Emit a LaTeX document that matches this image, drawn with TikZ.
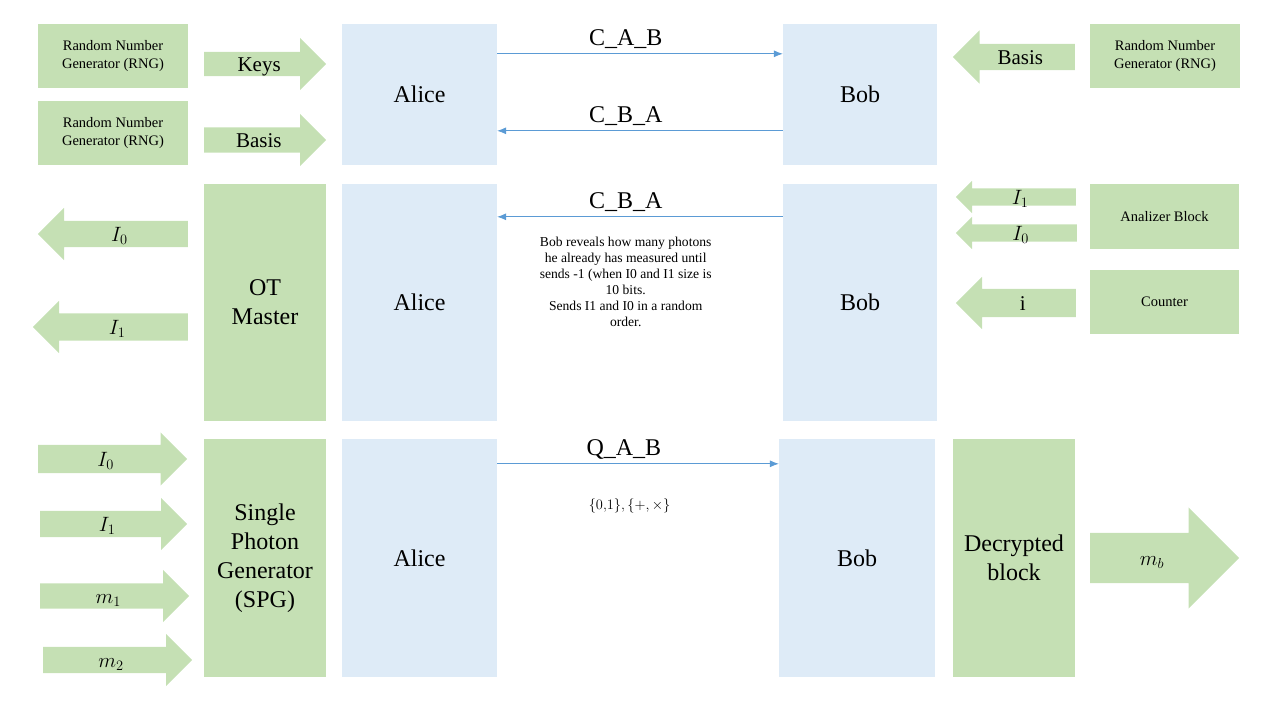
\documentclass[tikz,border=0pt]{standalone}
\usepackage{fontspec}
\setmainfont{Liberation Serif}
\usetikzlibrary{arrows.meta,shapes.arrows,positioning}
\definecolor{blockgreen}{HTML}{C5E0B4}
\definecolor{partyblue}{HTML}{DEEBF7}
\definecolor{linkblue}{HTML}{5B9BD5}
\newcommand{\bigtext}{\fontsize{24}{29}\selectfont}
\newcommand{\midtext}{\fontsize{21}{25}\selectfont}
\newcommand{\smalltext}{\fontsize{14.5}{18}\selectfont}
\newcommand{\notetext}{\fontsize{13.6}{16}\selectfont}
\tikzset{block/.style={rectangle, fill=blockgreen, inner sep=0pt, align=center, font=\bigtext},
	party/.style={rectangle, fill=partyblue, inner sep=0pt, align=center, font=\bigtext},
	source/.style={rectangle, fill=blockgreen, inner sep=0pt, align=center, font=\smalltext, minimum width=150pt, minimum height=64pt},
	fat/.style={single arrow, fill=blockgreen, anchor=tail, single arrow tip angle=90, single arrow head indent=0pt, inner xsep=1pt, inner ysep=0pt, font=\midtext},
	back/.style={fat, shape border rotate=180},
	shaft/.style 2 args={text height=#1, text depth=#2},
	link/.style={draw=linkblue, line width=0.8pt, -{Latex[length=9pt,width=7pt]}}
}

\begin{document}
\begin{tikzpicture}[x=1pt, y=-1pt]
	\useasboundingbox (0,0) rectangle (1280,720);

	% key generation row
	\node[source] (rngA) at (113,56) {Random Number\\Generator (RNG)};
	\node[source, below=13pt of rngA] (rngB) {Random Number\\Generator (RNG)};
	\node[fat, minimum height=122pt, shaft={19pt}{5pt}, single arrow head extend=14pt] (keys) at (204,64) {Keys};
	\node[fat, minimum height=122pt, shaft={19.5pt}{5.5pt}, single arrow head extend=13.5pt] (basisA) at (204,140) {Basis};
	\node[party, minimum width=155pt, minimum height=141pt] (aliceA) at (419.5,94.5) {Alice};
	\node[party, minimum width=154pt, minimum height=141pt] (bobA) at (860,94.5) {Bob};
	\node[back, minimum height=122pt, shaft={20pt}{6pt}, single arrow head extend=13.5pt] (basisB) at (1075,57) {Basis};
	\node[source] (rngC) at (1165,56) {Random Number\\Generator (RNG)};

	% oblivious transfer row
	\node[back, minimum height=150pt, shaft={20pt}{6pt}, single arrow head extend=13pt] (outA) at (188,234) {$I_0$};
	\node[back, minimum height=155pt, shaft={20.5pt}{6.5pt}, single arrow head extend=12.5pt] (outB) at (188,327) {$I_1$};
	\node[block, minimum width=122pt, minimum height=237pt] (otm) at (265,302.5) {OT\\Master};
	\node[party, minimum width=155pt, minimum height=237pt] (aliceB) at (419.5,302.5) {Alice};
	\node[party, minimum width=154pt, minimum height=237pt] (bobB) at (860,302.5) {Bob};
	\node[back, minimum height=120pt, shaft={15.5pt}{1.5pt}, single arrow head extend=7.5pt] (fromA) at (1076,197) {$I_1$};
	\node[back, minimum height=121pt, shaft={15.5pt}{1.5pt}, single arrow head extend=7.5pt] (fromB) at (1077,233) {$I_0$};
	\node[back, minimum height=120pt, shaft={21pt}{7pt}, single arrow head extend=12pt] (count) at (1076,303) {i};
	\node[source, minimum width=149pt, minimum height=65pt] (analizer) at (1164.5,216.5) {Analizer Block};
	\node[source, minimum width=149pt] (counter) at (1164.5,302) {Counter};

	% photon row
	\node[fat, minimum height=149pt, shaft={21pt}{7pt}, single arrow head extend=12.5pt] (inA) at (38,459) {$I_0$};
	\node[fat, minimum height=147pt, shaft={20pt}{6pt}, single arrow head extend=13pt] (inB) at (40,524) {$I_1$};
	\node[fat, minimum height=149pt, shaft={19.5pt}{5.5pt}, single arrow head extend=13.5pt] (inC) at (40,596) {$m_1$};
	\node[fat, minimum height=149pt, shaft={20pt}{6pt}, single arrow head extend=13pt] (inD) at (43,660) {$m_2$};
	\node[block, minimum width=122pt, minimum height=238pt] (spg) at (265,558) {Single\\Photon\\Generator\\(SPG)};
	\node[party, minimum width=155pt, minimum height=238pt] (aliceC) at (419.5,558) {Alice};
	\node[party, minimum width=156pt, minimum height=238pt] (bobC) at (857,558) {Bob};
	\node[block, minimum width=122pt, minimum height=238pt] (dec) at (1014,558) {Decrypted\\block};
	\node[fat, minimum height=149pt, shaft={32pt}{18pt}, single arrow head extend=25.5pt] (mb) at (1090,558) {$m_b$};

	% draw lines
	\draw[link] ([yshift=-30pt]aliceA.north east) -- ([yshift=-30pt]bobA.north west) node[pos=0.45, above=1pt, font=\bigtext, text=black]{C\_A\_B};
	\draw[link] ([yshift=-107pt]bobA.north west) -- ([yshift=-107pt]aliceA.north east) node[pos=0.55, above=1pt, font=\bigtext, text=black]{C\_B\_A};
	\draw[link] ([yshift=-33pt]bobB.north west) -- ([yshift=-33pt]aliceB.north east) node[pos=0.55, above=1pt, font=\bigtext, text=black]{C\_B\_A}
		node[pos=0.55, below=17pt, font=\notetext, text=black, align=center] (note) {Bob reveals how many photons\\he already has measured until\\sends -1 (when I0 and I1 size is\\10 bits.\\Sends I1 and I0 in a random\\order.};
	\draw[link] ([yshift=-25pt]aliceC.north east) -- ([yshift=-25pt]bobC.north west) node[pos=0.45, above=1pt, font=\bigtext, text=black]{Q\_A\_B}
		node[pos=0.47, below=31pt, font=\fontsize{13.5}{16}\selectfont, text=black] (bases) {$\{0{,}1\},\{+,\times\}$};
\end{tikzpicture}
\end{document}
